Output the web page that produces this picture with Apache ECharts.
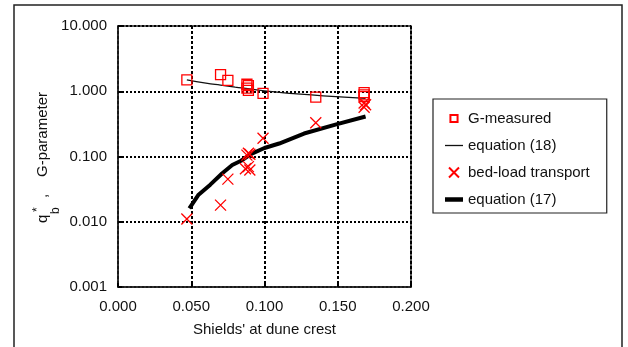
<!DOCTYPE html>
<html>
<head>
<meta charset="utf-8">
<script src="https://cdn.jsdelivr.net/npm/echarts@6/dist/echarts.min.js"></script>
<style>
  html, body { margin: 0; padding: 0; background: #fff; }
  #chart { width: 628px; height: 347px; }
</style>
</head>
<body>
<div id="chart"></div>
<script>
// G-measured (squares)
const gMeasuredX = [0.047, 0.070, 0.075, 0.088, 0.089, 0.088, 0.089, 0.099, 0.135, 0.168, 0.168, 0.168];
const gMeasuredY = [1.49, 1.80, 1.47, 1.28, 1.22, 1.12, 1.03, 0.93, 0.81, 0.95, 0.88, 0.83];

// equation (18)
const eq18X = [0.047, 0.060, 0.070, 0.080, 0.090, 0.100, 0.120, 0.140, 0.169];
const eq18Y = [1.49, 1.33, 1.24, 1.16, 1.09, 1.01, 0.92, 0.85, 0.78];

// bed-load transport (crosses)
const bedLoadX = [0.047, 0.070, 0.075, 0.087, 0.089, 0.090, 0.088, 0.089, 0.090, 0.099, 0.135, 0.168, 0.169, 0.168];
const bedLoadY = [0.011, 0.018, 0.045, 0.065, 0.070, 0.062, 0.105, 0.112, 0.108, 0.19, 0.33, 0.57, 0.62, 0.66];

// equation (17)
const eq17X = [0.0487, 0.055, 0.063, 0.071, 0.078, 0.084, 0.091, 0.100, 0.110, 0.127, 0.149, 0.169];
const eq17Y = [0.016, 0.026, 0.037, 0.055, 0.074, 0.086, 0.110, 0.135, 0.158, 0.225, 0.310, 0.410];

const legendNames = ['G-measured', 'equation (18)', 'bed-load transport', 'equation (17)'];

const FONT = 'Liberation Sans, Arial, sans-serif';
const squarePath = 'path://M0,0H10V10H0Z';
const crossPath = 'path://M0,0L10,10M10,0L0,10';

function pairs(xs, ys) {
  return xs.map((x, i) => [x, ys[i]]);
}

const chart = echarts.init(document.getElementById('chart'));

const option = {
  animation: false,
  backgroundColor: '#fff',
  grid: {
    left: 118,
    right: 217,
    top: 26,
    bottom: 60,
    show: true,
    borderColor: '#222',
    borderWidth: 1.5
  },
  xAxis: {
    type: 'value',
    min: 0,
    max: 0.2,
    interval: 0.05,
    name: "Shields' at dune crest",
    nameLocation: 'middle',
    nameGap: 35,
    nameTextStyle: { fontFamily: FONT, fontSize: 15, color: '#111' },
    axisLine: { lineStyle: { color: '#222', width: 1.5 } },
    axisTick: { inside: true, length: 4, lineStyle: { color: '#000', width: 2 } },
    axisLabel: {
      margin: 12,
      fontFamily: FONT,
      fontSize: 15,
      color: '#111',
      formatter: (v) => v.toFixed(3)
    },
    splitLine: { lineStyle: { color: '#000', width: 2, type: [3, 2] } }
  },
  yAxis: {
    type: 'log',
    logBase: 10,
    min: 0.001,
    max: 10,
    axisLine: { lineStyle: { color: '#222', width: 1.5 } },
    axisTick: { inside: true, length: 4, lineStyle: { color: '#000', width: 2 } },
    axisLabel: {
      margin: 11,
      fontFamily: FONT,
      fontSize: 15,
      color: '#111',
      formatter: (v) => v.toFixed(3)
    },
    splitLine: { lineStyle: { color: '#000', width: 2, type: [2, 2] } },
    minorTick: { show: false }
  },
  legend: {
    orient: 'vertical',
    left: 433,
    top: 99,
    padding: [12, 17, 6, 12],
    itemGap: 12,
    itemWidth: 18,
    itemHeight: 10,
    borderColor: '#222',
    borderWidth: 1.2,
    backgroundColor: '#fff',
    textStyle: { fontFamily: FONT, fontSize: 15, color: '#111' },
    data: [
      // extra moveTo points pad the box so the square draws smaller
      { name: legendNames[0], icon: 'path://M-2,-2M12,12M0,0H10V10H0Z' },
      { name: legendNames[1], icon: 'path://M0,0H18V1.3H0Z', itemStyle: { color: '#111', borderWidth: 0 } },
      { name: legendNames[2], icon: crossPath },
      { name: legendNames[3], icon: 'path://M0,0H18V4.5H0Z', itemStyle: { color: '#000', borderWidth: 0 } }
    ]
  },
  graphic: [
    {
      type: 'rect',
      shape: { x: 14, y: 5, width: 608, height: 400 },
      style: { fill: 'none', stroke: '#222', lineWidth: 1.5 },
      silent: true
    },
    {
      // y-axis title: q_b^* ,  G-parameter (rotated)
      type: 'group',
      x: 43,
      y: 223,
      rotation: Math.PI / 2,
      children: [
        { type: 'text', x: 0, y: 0, style: { text: 'q', font: '15px ' + FONT, fill: '#111', verticalAlign: 'middle' } },
        { type: 'text', x: 9, y: 13, style: { text: 'b', font: '12px ' + FONT, fill: '#111', verticalAlign: 'middle' } },
        { type: 'text', x: 11, y: -5, style: { text: '*', font: '12px ' + FONT, fill: '#111', verticalAlign: 'middle' } },
        { type: 'text', x: 25, y: 0, style: { text: ',', font: '15px ' + FONT, fill: '#111', verticalAlign: 'middle' } },
        { type: 'text', x: 46, y: 0, style: { text: 'G-parameter', font: '15px ' + FONT, fill: '#111', verticalAlign: 'middle' } }
      ]
    }
  ],
  series: [
    {
      name: legendNames[0],
      type: 'scatter',
      symbol: squarePath,
      symbolSize: 10,
      itemStyle: { color: 'transparent', borderColor: '#ff0000', borderWidth: 1.3, opacity: 1 },
      data: pairs(gMeasuredX, gMeasuredY),
      z: 4
    },
    {
      name: legendNames[1],
      type: 'line',
      symbol: 'none',
      smooth: true,
      lineStyle: { color: '#111', width: 1.3 },
      itemStyle: { color: '#111' },
      data: pairs(eq18X, eq18Y),
      z: 3
    },
    {
      name: legendNames[2],
      type: 'scatter',
      symbol: crossPath,
      symbolSize: 11,
      itemStyle: { color: 'transparent', borderColor: '#ff0000', borderWidth: 1.3, opacity: 1 },
      data: pairs(bedLoadX, bedLoadY),
      z: 4
    },
    {
      name: legendNames[3],
      type: 'line',
      symbol: 'none',
      lineStyle: { color: '#000', width: 4 },
      itemStyle: { color: '#000' },
      data: pairs(eq17X, eq17Y),
      z: 3
    }
  ]
};

chart.setOption(option);
</script>
</body>
</html>
